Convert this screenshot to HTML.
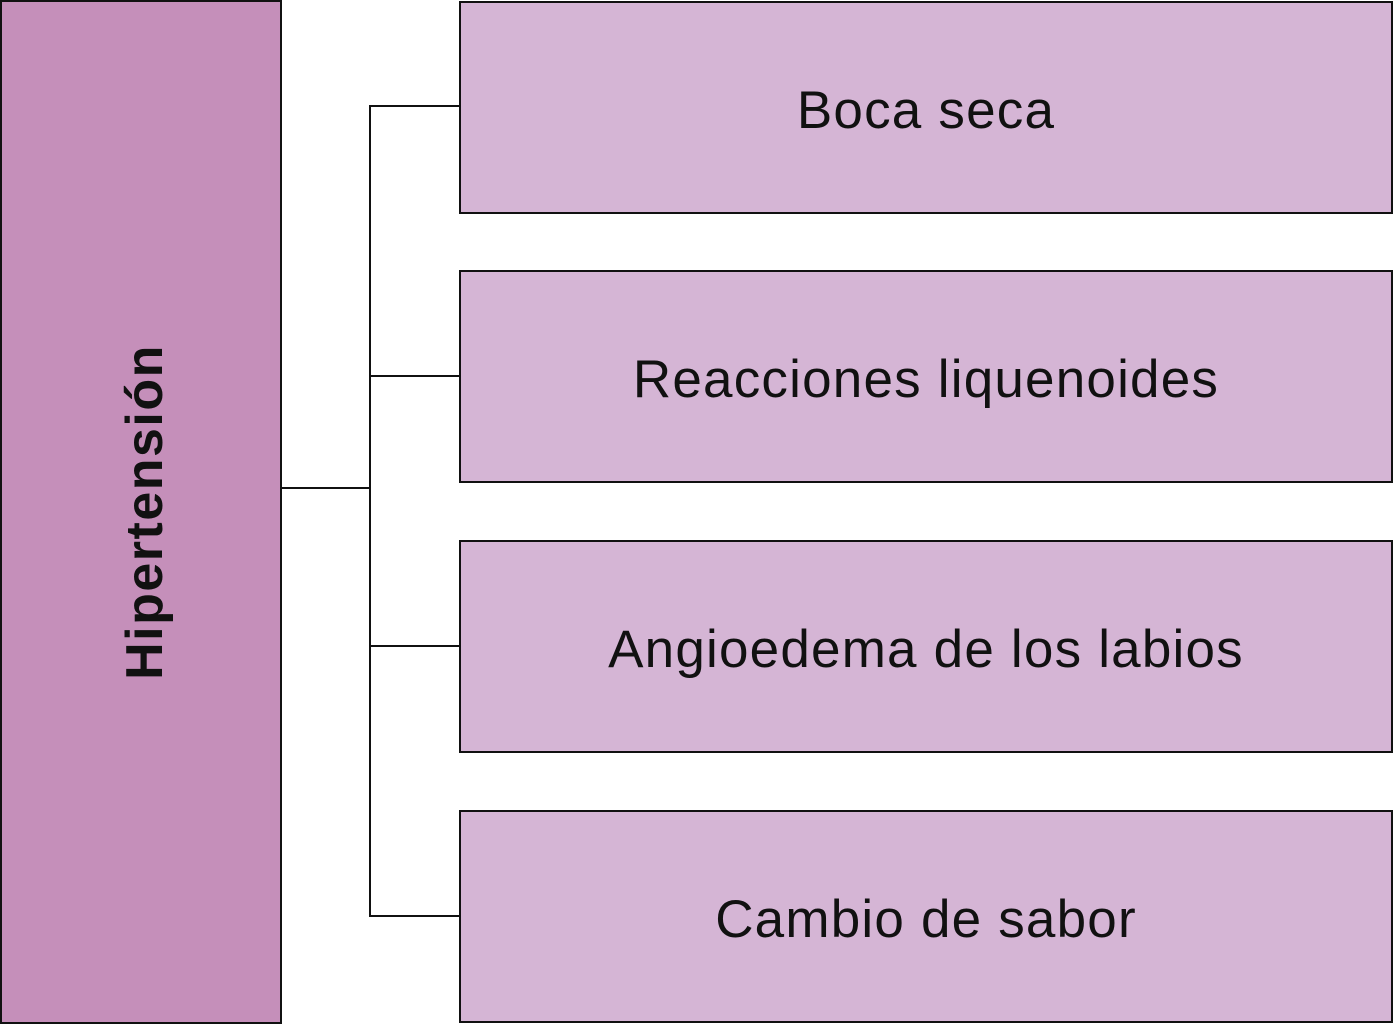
<!DOCTYPE html>
<html><head><style>
body{margin:0;width:1393px;height:1024px;background:#fff;position:relative;overflow:hidden;font-family:"Liberation Sans",sans-serif}
.b{position:absolute;box-sizing:border-box;border:2.5px solid #111;background:#d5b5d5;left:459px;width:934px;height:213px;display:flex;align-items:center;justify-content:center;font-size:53px;letter-spacing:1.2px;color:#111;padding-top:6px}
.l{position:absolute;background:#111}
</style></head><body>
<div style="position:absolute;left:0;top:0;width:282px;height:1024px;box-sizing:border-box;border:2.5px solid #111;background:#c58fba"></div>
<div style="position:absolute;left:145px;top:512px;transform:translate(-50%,-50%) rotate(-90deg);font-size:52px;letter-spacing:1.5px;font-weight:bold;white-space:nowrap;color:#111">Hipertensión</div>
<div class="l" style="left:281px;top:487px;width:90px;height:2px"></div>
<div class="l" style="left:369px;top:105px;width:2px;height:812px"></div>
<div class="l" style="left:369px;top:105px;width:92px;height:2px"></div>
<div class="l" style="left:369px;top:375px;width:92px;height:2px"></div>
<div class="l" style="left:369px;top:645px;width:92px;height:2px"></div>
<div class="l" style="left:369px;top:915px;width:92px;height:2px"></div>
<div class="b" style="top:1px">Boca seca</div>
<div class="b" style="top:270px">Reacciones liquenoides</div>
<div class="b" style="top:540px">Angioedema de los labios</div>
<div class="b" style="top:810px">Cambio de sabor</div>
</body></html>
